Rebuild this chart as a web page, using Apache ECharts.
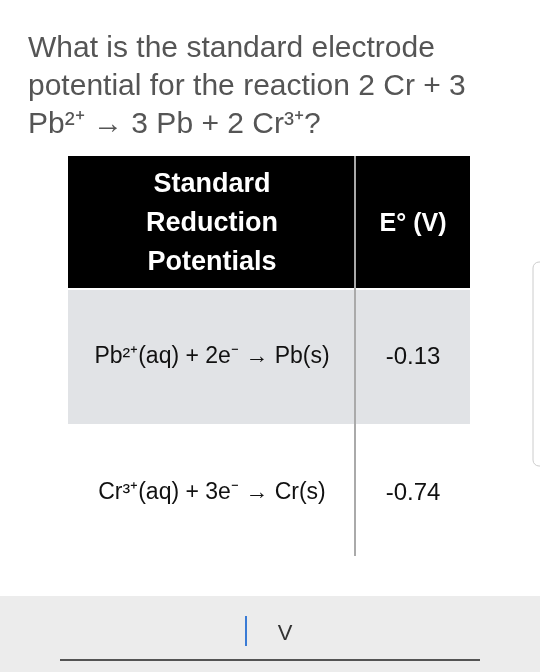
<!DOCTYPE html>
<html><head><meta charset="utf-8">
<script src="https://cdn.jsdelivr.net/npm/echarts@6/dist/echarts.min.js"></script>
<style>html,body{margin:0;padding:0;background:#fff}#c{width:540px;height:672px}</style>
</head><body><div id="c"></div>
<script>
const questionLines = ["What is the standard electrode", "potential for the reaction 2 Cr + 3", "Pb²⁺ → 3 Pb + 2 Cr³⁺?"];
const headerLeft = ["Standard", "Reduction", "Potentials"];
const headerRight = "E° (V)";
const reactions = ["Pb²⁺(aq) + 2e⁻ → Pb(s)", "Cr³⁺(aq) + 3e⁻ → Cr(s)"];
const potentials = ["-0.13", "-0.74"];
const answerUnit = "V";

const F = "Helvetica, 'Liberation Sans', Arial, sans-serif";
const g = [];
questionLines.forEach((t, i) => g.push({type:'text', left:28, top:34 + i*38, style:{text:t, font:'30px ' + F, fill:'#555'}}));
g.push({type:'rect', shape:{x:68, y:156, width:402, height:132}, style:{fill:'#000'}});
headerLeft.forEach((t, i) => g.push({type:'text', x:212, y:185 + i*39, style:{text:t, font:'bold 27px ' + F, fill:'#fff', align:'center', verticalAlign:'middle'}}));
g.push({type:'text', x:413, y:224, style:{text:headerRight, font:'bold 25px ' + F, fill:'#fff', align:'center', verticalAlign:'middle'}});
g.push({type:'rect', shape:{x:68, y:290, width:402, height:134}, style:{fill:'#e1e3e6'}});
reactions.forEach((t, i) => {
  const y = 357 + i*136;
  g.push({type:'text', x:212, y:y, style:{text:t, font:'23px ' + F, fill:'#111', align:'center', verticalAlign:'middle'}});
  g.push({type:'text', x:413, y:y, style:{text:potentials[i], font:'24px ' + F, fill:'#111', align:'center', verticalAlign:'middle'}});
});
g.push({type:'line', shape:{x1:355, y1:156, x2:355, y2:556}, style:{stroke:'#aaa', lineWidth:2}});
g.push({type:'rect', shape:{x:533, y:262, width:20, height:204, r:6}, style:{fill:'#fff', stroke:'#ccc', lineWidth:1}});
g.push({type:'rect', shape:{x:0, y:596, width:540, height:76}, style:{fill:'#ececec'}});
g.push({type:'line', shape:{x1:246, y1:616, x2:246, y2:646}, style:{stroke:'#3a7bd5', lineWidth:2}});
g.push({type:'text', x:285, y:634, style:{text:answerUnit, font:'22px ' + F, fill:'#333', align:'center', verticalAlign:'middle'}});
g.push({type:'line', shape:{x1:60, y1:660, x2:480, y2:660}, style:{stroke:'#222', lineWidth:1.5}});

const chart = echarts.init(document.getElementById('c'));
chart.setOption({animation:false, graphic:g});
</script></body></html>
